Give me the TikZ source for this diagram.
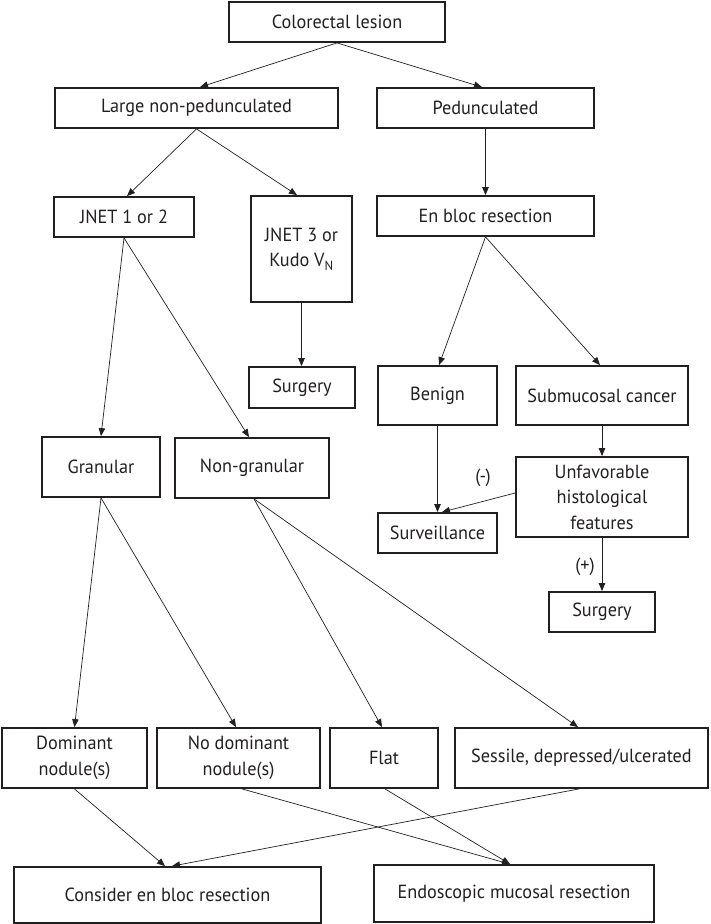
\documentclass[tikz,border=0pt]{standalone}
\usepackage{fontspec}
\setmainfont{PT Sans}[FakeStretch=0.96]
\usetikzlibrary{arrows.meta}
\definecolor{ink}{HTML}{231F20}
\tikzset{
  box/.style={draw=ink, line width=1.8pt, text=ink, align=center, inner sep=0pt,
    font=\fontsize{19}{25.5}\selectfont},
  conn/.style={draw=ink, line width=0.7pt, -{Triangle[length=8pt,width=6.5pt]}},
  lbl/.style={text=ink, font=\fontsize{19}{25.5}\selectfont, inner sep=0pt}
}
% \bx{name}{x1}{x2}{y1}{y2}{text}
\newcommand{\bx}[6]{%
  \node[box, minimum width={#3-#2}, minimum height={#5-#4}] (#1) at ({(#2+#3)/2},{(#4+#5)/2}) {#6};}
\begin{document}
\begin{tikzpicture}[x=1pt,y=-1pt]
\useasboundingbox (0,0) rectangle (711,924);
\bx{lesion}{229}{445}{2}{42}{Colorectal lesion}
\bx{large}{55}{338}{88}{128}{Large non-pedunculated}
\bx{ped}{377}{594}{88}{128}{Pedunculated}
\bx{jnet12}{54}{194}{197}{237}{JNET 1 or 2}
\bx{jnet3}{251}{352}{196}{302}{JNET 3 or\\Kudo V\textsubscript{N}}
\bx{enbloc}{377}{594}{196}{236}{En bloc resection}
\bx{surgL}{249}{355}{367}{408}{Surgery}
\bx{benign}{378}{497}{366}{425}{Benign}
\bx{submuc}{516}{688}{366}{425}{Submucosal cancer}
\bx{granular}{42}{160}{437}{497}{Granular}
\bx{nongran}{175}{329}{438}{498}{Non-granular}
\bx{unfav}{516}{688}{457}{537}{Unfavorable\\histological\\features}
\bx{surv}{378}{497}{513}{553}{Surveillance}
\bx{surgR}{549}{655}{592}{632}{Surgery}
\bx{dom}{2}{147}{728}{788}{Dominant\\nodule(s)}
\bx{nodom}{157}{320}{728}{788}{No dominant\\nodule(s)}
\bx{flat}{330}{438}{728}{788}{Flat}
\bx{sessile}{455}{708}{728}{788}{Sessile, depressed/ulcerated}
\bx{consider}{14}{321}{867}{923}{Consider en bloc resection}
\bx{emr}{374}{654}{865}{922}{Endoscopic mucosal resection}

\node[lbl] (minus) at (483,478) {(-)};
\node[lbl] (plus) at (585,567) {(+)};

\draw[conn] (lesion.south) -- ([xshift=3.5pt]large.north);
\draw[conn] (lesion.south) -- ([xshift=-3.5pt]ped.north);
\draw[conn] (large.south) -- ([xshift=3pt]jnet12.north);
\draw[conn] (large.south) -- ([xshift=-4.5pt]jnet3.north);
\draw[conn] (ped.south) -- (enbloc.north);
\draw[conn] (jnet3.south) -- (jnet3.south |- surgL.north);
\draw[conn] (enbloc.south) -- ([xshift=1.5pt]benign.north);
\draw[conn] (enbloc.south) -- ([xshift=-2pt]submuc.north);
\draw[conn] (jnet12.south) -- (granular.north);
\draw[conn] (jnet12.south) -- ([xshift=-3pt]nongran.north);
\draw[conn] (benign.south) -- (surv.north);
\draw[conn] (submuc.south) -- (unfav.north);
\draw[conn] ([yshift=4pt]unfav.west) -- ([xshift=4.5pt]surv.north);
\draw[conn] (unfav.south) -- (surgR.north);
\draw[conn] (granular.south) -- (dom.north);
\draw[conn] (granular.south) -- ([xshift=-2.5pt]nodom.north);
\draw[conn] ([xshift=2pt]nongran.south) -- ([xshift=-2pt]flat.north);
\draw[conn] ([xshift=2pt]nongran.south) -- ([xshift=-3.5pt]sessile.north);
\draw[conn] (dom.south) -- ([xshift=-2.5pt]consider.north);
\draw[conn] ([xshift=-2.5pt]sessile.south) -- ([xshift=4.5pt]consider.north);
\draw[conn] ([xshift=3.5pt]nodom.south) -- ([xshift=-4pt]emr.north);
\draw[conn] ([xshift=1pt]flat.south) -- ([xshift=-4pt]emr.north);
\end{tikzpicture}
\end{document}
